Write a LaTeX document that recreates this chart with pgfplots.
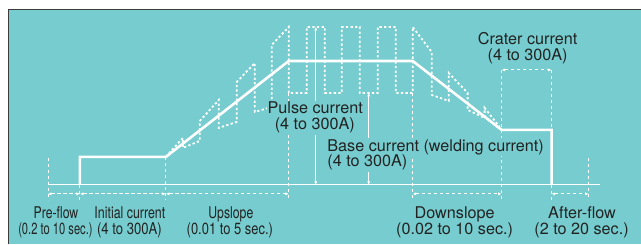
\documentclass[border=0pt]{standalone}
\usepackage{pgfplots}
\pgfplotsset{compat=1.18}
\usepackage{graphicx}
\usepackage{fontspec}
\setmainfont{TeX Gyre Heros}
\usetikzlibrary{arrows.meta}
\definecolor{bgteal}{RGB}{118,204,206}
\definecolor{txt}{RGB}{34,34,34}
\definecolor{bord}{RGB}{60,60,60}
\newcommand{\lab}{\fontsize{16.2bp}{18bp}\selectfont}
\tikzset{
  guide/.style={white, line width=0.9bp, dash pattern=on 3.5bp off 2.5bp},
  >={Latex[length=3.5bp,width=3.2bp]},
  lbl/.style={text=txt, font=\lab, inner sep=0.5bp},
}
\begin{document}
\begin{tikzpicture}
\begin{axis}[
  width=641bp, height=244bp, scale only axis,
  xmin=0, xmax=641, ymin=0, ymax=244, y dir=reverse,
  hide axis, clip=false,
]
% background box
\fill[white] (axis cs:0,0) rectangle (axis cs:641,244);
\fill[bgteal] (axis cs:8,9) rectangle (axis cs:641,244);
\draw[bord, line width=1bp] (axis cs:8.5,244) -- (axis cs:8.5,9.5) -- (axis cs:641,9.5);

% dashed guide verticals
\addplot[guide] coordinates {(48,158) (48,200)};
\addplot[guide] coordinates {(80,185) (80,200)};
\addplot[guide] coordinates {(166,157) (166,200)};
\addplot[guide] coordinates {(289,93) (289,200)};
\addplot[guide] coordinates {(413,93) (413,200)};
\addplot[guide] coordinates {(502,70) (502,200)};
\addplot[guide] coordinates {(552,70) (552,130)};
\addplot[guide] coordinates {(552,185) (552,200)};
\addplot[guide] coordinates {(589,158) (589,200)};

% dashed duration arrows
\addplot[guide, <->] coordinates {(48,194) (80,194)};
\addplot[guide, <->] coordinates {(80,194) (166,194)};
\addplot[guide, <->] coordinates {(166,194) (289,194)};
\addplot[guide, <->] coordinates {(413,194) (502,194)};
\addplot[guide, <->] coordinates {(552,194) (589,194)};
\addplot[guide, <->] coordinates {(502,70) (552,70)};

% time axis
\addplot[white, line width=1.1bp] coordinates {(48,185) (600,185)};

% current arrows
\addplot[white, line width=0.9bp, <->] coordinates {(316,27) (316,185)};
\addplot[white, line width=0.9bp, <->] coordinates {(369,93) (369,185)};

% pulse waveform (dotted)
\addplot[white, line width=1.8bp, dash pattern=on 2.3bp off 2.3bp] coordinates {
(166,157) (183,138) (183,148) (200,141) (200,121) (219,100) (219,128)
(237,122) (237,82) (255,63) (255,112) (272,107) (272,45) (287,29) (289,27)
(289,93) (307,93) (307,27) (325,27) (325,93) (342,93) (342,27) (360,27)
(360,93) (378,93) (378,27) (396,27) (396,93) (413,93) (413,27) (432,52)
(432,95) (449,101) (449,73) (468,93) (468,110) (485,118) (485,108) (500,127)
};

% main current line
\addplot[white, line width=2.6bp, line join=miter] coordinates {
(80,185) (80,157) (166,157) (289,61) (413,61) (502,130) (552,130) (552,185)
};

% labels
\node[lbl, anchor=base, fill=bgteal, inner ysep=1.5bp] at (axis cs:315.5,114) {Pulse current};
\node[lbl, anchor=base, fill=bgteal, inner ysep=1.5bp] at (axis cs:315,130) {(4 to 300A)};
\node[lbl, anchor=base west, fill=bgteal, inner ysep=1.5bp] at (axis cs:327,151.5) {Base current (welding current)};
\node[lbl, anchor=base west, fill=bgteal, inner ysep=1.5bp] at (axis cs:327,167) {(4 to 300A)};
\node[lbl, anchor=base] at (axis cs:528,45) {Crater current};
\node[lbl, anchor=base] at (axis cs:528,61) {(4 to 300A)};

\node[lbl, anchor=base] at (axis cs:56,218.5) {\scalebox{0.757}[1]{Pre-flow}};
\node[lbl, anchor=base] at (axis cs:55.5,235) {\scalebox{0.69}[1]{(0.2 to 10 sec.)}};
\node[lbl, anchor=base] at (axis cs:130,218.5) {\scalebox{0.766}[1]{Initial current}};
\node[lbl, anchor=base] at (axis cs:129.5,235) {\scalebox{0.81}[1]{(4 to 300A)}};
\node[lbl, anchor=base] at (axis cs:231,218.5) {\scalebox{0.757}[1]{Upslope}};
\node[lbl, anchor=base] at (axis cs:230,235) {\scalebox{0.80}[1]{(0.01 to 5 sec.)}};
\node[lbl, anchor=base] at (axis cs:455,218.5) {Downslope};
\node[lbl, anchor=base] at (axis cs:455,235) {(0.02 to 10 sec.)};
\node[lbl, anchor=base] at (axis cs:582.5,218.5) {After-flow};
\node[lbl, anchor=base] at (axis cs:582,235) {(2 to 20 sec.)};
\end{axis}
\end{tikzpicture}
\end{document}
